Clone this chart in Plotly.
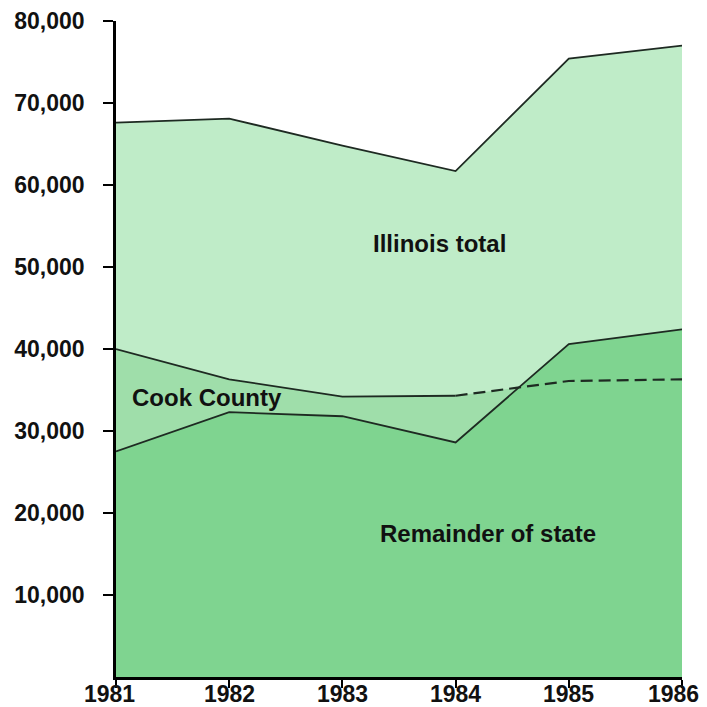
import plotly.graph_objects as go

years = [1981, 1982, 1983, 1984, 1985, 1986]
illinois_total = [67600, 68100, 64800, 61700, 75400, 77000]
cook_county = [40000, 36300, 34200, 34300, 36100, 36300]
remainder = [27500, 32300, 31800, 28600, 40600, 42400]
y_ticks = [10000, 20000, 30000, 40000, 50000, 60000, 70000, 80000]
y_tick_text = ["10,000", "20,000", "30,000", "40,000", "50,000", "60,000", "70,000", "80,000"]

light = "#bfecc8"
medium = "#9fdeaa"
dark = "#7fd490"
line_col = "#1e2a22"

fig = go.Figure()
fig.add_trace(go.Scatter(x=years, y=illinois_total, fill="tozeroy", fillcolor=light,
                         mode="lines", line=dict(color=line_col, width=1.8), hoverinfo="skip"))
fig.add_trace(go.Scatter(x=years, y=cook_county, fill="tozeroy", fillcolor=medium,
                         mode="lines", line=dict(color="rgba(0,0,0,0)", width=0), hoverinfo="skip"))
fig.add_trace(go.Scatter(x=years, y=remainder, fill="tozeroy", fillcolor=dark,
                         mode="lines", line=dict(color=line_col, width=1.8), hoverinfo="skip"))
# Cook County line: solid through 1984, dashed afterwards
fig.add_trace(go.Scatter(x=years[:4], y=cook_county[:4], mode="lines",
                         line=dict(color=line_col, width=1.8), hoverinfo="skip"))
fig.add_trace(go.Scatter(x=years[3:], y=cook_county[3:], mode="lines",
                         line=dict(color=line_col, width=2.2, dash="12px,6px"), hoverinfo="skip"))

font_main = dict(family="Liberation Sans, Arial, sans-serif", size=24, color="#111111")
fig.add_annotation(x=1983.86, y=52900, text="<b>Illinois total</b>", showarrow=False, font=font_main)
fig.add_annotation(x=1981.80, y=34100, text="<b>Cook County</b>", showarrow=False, font=font_main)
fig.add_annotation(x=1984.29, y=17500, text="<b>Remainder of state</b>", showarrow=False, font=font_main)

# x-axis year labels (drawn as annotations so they sit tight under the axis)
xfont = dict(family="Liberation Sans Narrow, Liberation Sans, Arial, sans-serif", size=23, color="#111111")
for i, yr in enumerate(years):
    fig.add_annotation(x=yr, y=0, xref="x", yref="y", text=f"<b>{yr}</b>", showarrow=False,
                       yanchor="top", xanchor="center", yshift=-3, borderpad=0,
                       xshift=(-7 if i == 0 else (-9 if i == len(years) - 1 else 0)), font=xfont)

fig.update_layout(
    width=699, height=699,
    margin=dict(l=108, r=25, t=13, b=30),
    paper_bgcolor="white", plot_bgcolor="white",
    showlegend=False,
    font=dict(family="Liberation Sans, Arial, sans-serif", size=23, color="#111111"),
)
fig.update_xaxes(range=[1981, 1986], tickvals=years, showticklabels=False,
                 automargin=False,
                 showgrid=False, zeroline=False, showline=True, linecolor="black", linewidth=2.5,
                 ticks="outside", ticklen=8, tickwidth=2, tickcolor="black")
fig.update_yaxes(range=[0, 80000], tickvals=y_ticks, ticktext=[f"<b>{t}</b>" for t in y_tick_text],
                 automargin=False,
                 showgrid=False, zeroline=False, showline=True, linecolor="black", linewidth=2.5,
                 ticks="outside", ticklen=10, tickwidth=2, tickcolor="black", ticklabelstandoff=14)

fig.write_html("out.html")
